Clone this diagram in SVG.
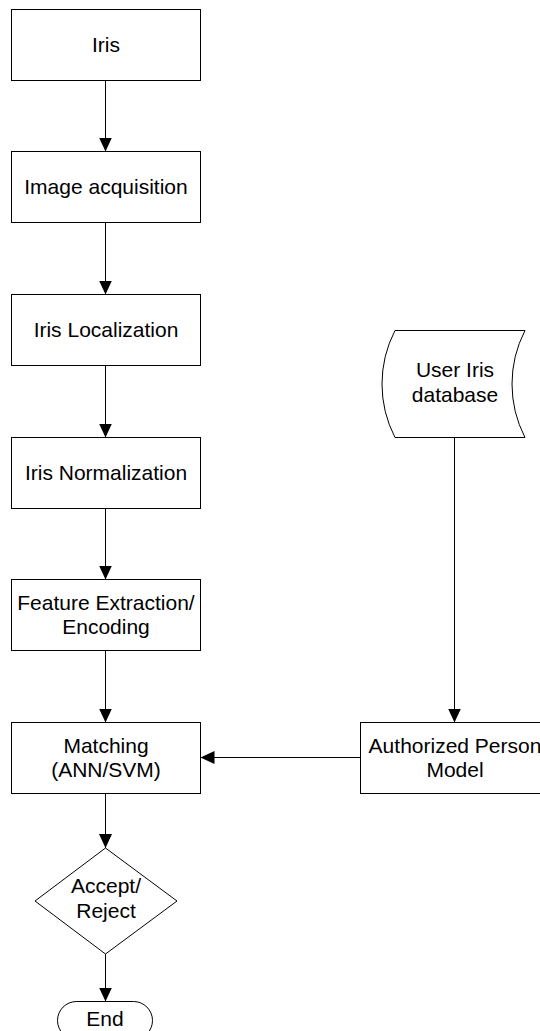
<svg xmlns="http://www.w3.org/2000/svg" width="540" height="1031" viewBox="0 0 540 1031">
<style>
.box{fill:#fff;stroke:#000;stroke-width:1}
.t{font-family:"Liberation Sans",Arial,sans-serif;font-size:21px;fill:#000;text-anchor:middle}
.c{fill:none;stroke:#000;stroke-width:1}
</style>
<defs>
<marker id="arr" markerUnits="userSpaceOnUse" markerWidth="14" markerHeight="13" refX="14" refY="6.5" orient="auto">
<path d="M0,0 L14,6.5 L0,13 Z" fill="#000"/>
</marker>
</defs>
<rect width="540" height="1031" fill="#fff"/>
<g id="connectors">
<line class="c" x1="105.5" y1="80.5" x2="105.5" y2="151.5" marker-end="url(#arr)"/>
<line class="c" x1="105.5" y1="222.5" x2="105.5" y2="294.5" marker-end="url(#arr)"/>
<line class="c" x1="105.5" y1="365.5" x2="105.5" y2="437.5" marker-end="url(#arr)"/>
<line class="c" x1="105.5" y1="508.5" x2="105.5" y2="579.5" marker-end="url(#arr)"/>
<line class="c" x1="105.5" y1="650.5" x2="105.5" y2="722.5" marker-end="url(#arr)"/>
<line class="c" x1="105.5" y1="793.5" x2="105.5" y2="848" marker-end="url(#arr)"/>
<line class="c" x1="105.5" y1="954" x2="105.5" y2="1001.5" marker-end="url(#arr)"/>
<line class="c" x1="454.5" y1="437.5" x2="454.5" y2="722.5" marker-end="url(#arr)"/>
<line class="c" x1="360.5" y1="757.5" x2="200.5" y2="757.5" marker-end="url(#arr)"/>
</g>
<g id="iris">
<rect class="box" x="11.5" y="9.5" width="189" height="71"/>
<text class="t" x="106" y="52">Iris</text>
</g>
<g id="acquisition">
<rect class="box" x="11.5" y="151.5" width="189" height="71"/>
<text class="t" x="106" y="194">Image acquisition</text>
</g>
<g id="localization">
<rect class="box" x="11.5" y="294.5" width="189" height="71"/>
<text class="t" x="106" y="337">Iris Localization</text>
</g>
<g id="normalization">
<rect class="box" x="11.5" y="437.5" width="189" height="71"/>
<text class="t" x="106" y="480">Iris Normalization</text>
</g>
<g id="feature">
<rect class="box" x="11.5" y="579.5" width="189" height="71"/>
<text class="t" x="106" y="610">Feature Extraction/</text>
<text class="t" x="106" y="634">Encoding</text>
</g>
<g id="matching">
<rect class="box" x="11.5" y="722.5" width="189" height="71"/>
<text class="t" x="106" y="753">Matching</text>
<text class="t" x="106" y="777">(ANN/SVM)</text>
</g>
<g id="database">
<path class="box" d="M395,330.5 L525,330.5 A116.6,116.6 0 0 0 525,437.5 L395,437.5 A116.6,116.6 0 0 1 395,330.5 Z"/>
<text class="t" x="455" y="377">User Iris</text>
<text class="t" x="455" y="402">database</text>
</g>
<g id="authorized">
<rect class="box" x="360.5" y="722.5" width="189" height="71"/>
<text class="t" x="455" y="753">Authorized Person</text>
<text class="t" x="455" y="777">Model</text>
</g>
<g id="decision">
<path class="box" d="M105.5,848 L177,901 L105.5,954 L35,901 Z"/>
<text class="t" x="106" y="893">Accept/</text>
<text class="t" x="106" y="918">Reject</text>
</g>
<g id="end">
<rect class="box" x="57.5" y="1001.5" width="95" height="38" rx="19" ry="19"/>
<text class="t" x="105" y="1026">End</text>
</g>
</svg>
